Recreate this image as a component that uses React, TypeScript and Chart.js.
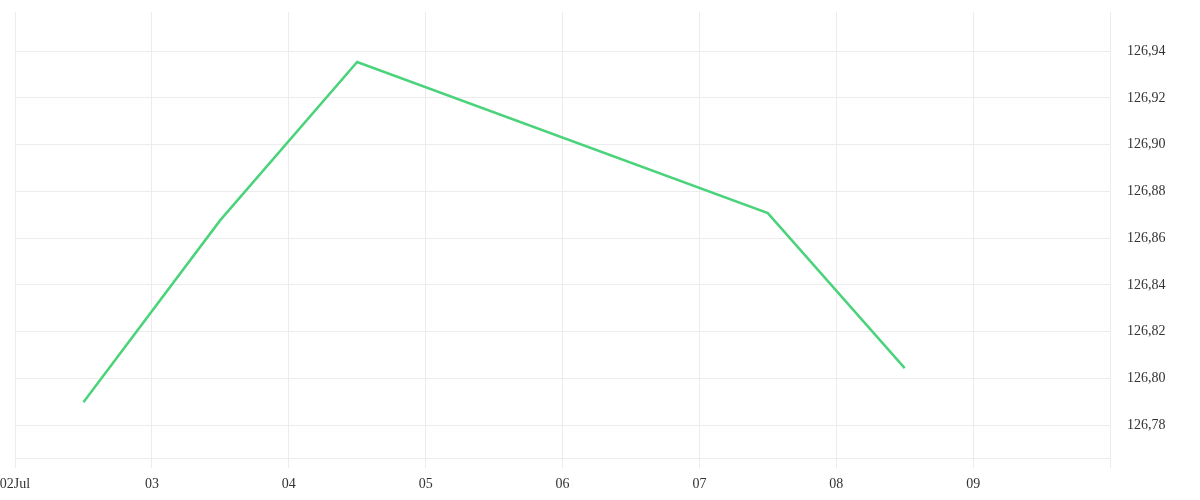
import { useEffect, useRef } from 'react';
import { Chart, registerables } from 'chart.js';

Chart.register(...registerables);

// x positions are days since 02 Jul (0 = 02 Jul, 8 = 10 Jul)
const dayLabels = ['02Jul', '03', '04', '05', '06', '07', '08', '09', ''];
const pointDays = [0.5, 1.5, 2.5, 5.5, 6.5];
const prices = [126.7898, 126.8677, 126.9353, 126.8707, 126.8044];
const yTicks = [126.78, 126.8, 126.82, 126.84, 126.86, 126.88, 126.9, 126.92, 126.94];

export default function App() {
  const chartRef = useRef<HTMLCanvasElement>(null);
  const chartInstanceRef = useRef<Chart | null>(null);

  useEffect(() => {
    if (!chartRef.current) return;
    const ctx = chartRef.current.getContext('2d');
    if (!ctx) return;

    if (chartInstanceRef.current) {
      chartInstanceRef.current.destroy();
    }

    const gridColor = '#ececec';
    const textColor = '#333333';
    const font = { family: "'Liberation Serif', serif", size: 14 };

    chartInstanceRef.current = new Chart(ctx, {
      type: 'line',
      data: {
        datasets: [
          {
            data: pointDays.map((d, i) => ({ x: d, y: prices[i] })),
            borderColor: '#4bd37b',
            borderWidth: 2.5,
            pointRadius: 0,
            tension: 0,
            fill: false
          }
        ]
      },
      options: {
        animation: false,
        responsive: true,
        maintainAspectRatio: false,
        layout: { padding: 0 },
        plugins: {
          legend: { display: false },
          tooltip: { enabled: false }
        },
        scales: {
          x: {
            type: 'linear',
            min: 0,
            max: 8,
            afterFit: (scale: any) => {
              scale.height = 42;
              scale.paddingLeft = 15;
            },
            ticks: {
              stepSize: 1,
              color: textColor,
              font,
              padding: 8,
              maxRotation: 0,
              autoSkip: false,
              callback: (v: any) => dayLabels[Number(v)] ?? ''
            },
            grid: { color: gridColor, tickLength: 10 },
            border: { color: gridColor }
          },
          y: {
            type: 'linear',
            position: 'right',
            min: 126.766,
            max: 126.9567,
            afterBuildTicks: (scale: any) => {
              scale.ticks = yTicks.map(v => ({ value: v }));
            },
            afterFit: (scale: any) => {
              scale.width = 90;
              scale.paddingTop = 12;
            },
            ticks: {
              color: textColor,
              font,
              padding: 17,
              callback: (v: any) => Number(v).toFixed(2).replace('.', ',')
            },
            grid: { color: gridColor, drawTicks: false },
            border: { color: gridColor }
          }
        }
      }
    });

    return () => {
      if (chartInstanceRef.current) {
        chartInstanceRef.current.destroy();
        chartInstanceRef.current = null;
      }
    };
  }, []);

  return (
    <div style={{ position: 'absolute', left: 0, top: 0, width: 1200, height: 500 }}>
      <canvas ref={chartRef} />
    </div>
  );
}
